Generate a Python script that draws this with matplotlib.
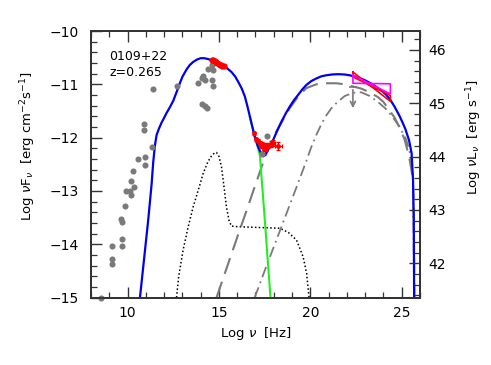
import numpy as np
import matplotlib
matplotlib.use("Agg")
import matplotlib.pyplot as plt
from matplotlib.ticker import MultipleLocator

# ---------------- data ----------------
# archival data (gray)
arch_x = [8.55, 9.13, 9.13, 9.13, 9.68, 9.68, 9.64, 9.68, 9.88, 9.91, 10.13, 10.17,
          10.33, 10.17, 10.31, 10.55, 10.93, 10.93, 11.32, 10.91, 10.91, 11.37, 12.68,
          13.86, 14.05, 14.14, 14.23, 14.41, 14.6, 14.68, 14.63, 14.68, 14.08, 14.23, 14.37,
          17.63, 17.36]
arch_y = [-15.0, -14.04, -14.28, -14.38, -14.04, -13.91, -13.53, -13.58, -13.28, -13.01, -13.01, -13.08,
          -12.93, -12.81, -12.63, -12.41, -12.37, -12.51, -12.17, -11.74, -11.86, -11.08, -11.03,
          -10.98, -10.89, -10.84, -10.92, -10.72, -10.64, -10.73, -10.91, -11.03, -11.37, -11.41, -11.45,
          -11.97, -12.30]

# simultaneous optical/UV (red)
opt_x = [14.62, 14.7, 14.78, 14.85, 14.92, 15.0, 15.06, 15.12, 15.18, 15.25]
opt_y = [-10.55, -10.54, -10.57, -10.58, -10.60, -10.61, -10.63, -10.64, -10.65, -10.66]

# X-ray (red)
xr_x = [16.92, 17.05, 17.15, 17.22, 17.30, 17.38, 17.45, 17.52, 17.6, 17.7, 17.85, 17.98, 18.24]
xr_y = [-11.92, -12.03, -12.06, -12.10, -12.16, -12.12, -12.22, -12.14, -12.20, -12.15, -12.12, -12.10, -12.16]
xr_xerr = [0.03, 0.03, 0.03, 0.03, 0.03, 0.03, 0.04, 0.04, 0.05, 0.05, 0.06, 0.08, 0.2]
xr_yerr = [0.03, 0.03, 0.03, 0.04, 0.04, 0.04, 0.04, 0.04, 0.05, 0.05, 0.05, 0.06, 0.07]

# Fermi bowties
fermi_red_x = [22.33, 24.38]
fermi_red_top = [-10.77, -11.21]
fermi_red_bot = [-10.86, -11.32]
fermi_mag_x = [22.33, 24.38]
fermi_mag_top = [-10.83, -10.99]
fermi_mag_bot = [-10.98, -11.18]

# upper limit
ul_x = 22.33
ul_y = -11.05
ul_tip = -11.50

# model: total (blue)
tot_x = [10.68, 10.86, 11.13, 11.32, 11.40, 11.50, 11.59, 11.72, 11.86, 12.0, 12.13, 12.3, 12.5, 12.7,
         12.86, 13.0, 13.23, 13.4, 13.59, 13.8, 14.0, 14.2, 14.4, 14.68, 15.0, 15.23, 15.45, 15.69,
         15.9, 16.05, 16.25, 16.42, 16.55, 16.69, 16.83, 16.96, 17.1, 17.2, 17.32,
         17.42, 17.52, 17.62, 17.78, 17.96, 18.2, 18.42, 18.65, 18.87, 19.1, 19.33, 19.55, 19.79,
         20.05, 20.33, 20.6, 20.88, 21.2, 21.51, 21.85, 22.15, 22.5, 22.97, 23.4, 23.88, 24.1,
         24.34, 24.61, 24.89, 25.05, 25.2, 25.4, 25.54, 25.62, 25.66, 25.68]
tot_y = [-15.0, -14.42, -13.55, -12.86, -12.48, -12.14, -11.95, -11.83, -11.72, -11.63, -11.54, -11.44, -11.31, -11.13,
         -10.98, -10.86, -10.72, -10.64, -10.58, -10.535, -10.51, -10.51, -10.525, -10.56, -10.60, -10.645, -10.70, -10.77,
         -10.86, -10.95, -11.08, -11.23, -11.40, -11.60, -11.80, -11.98, -12.13, -12.22, -12.30,
         -12.35, -12.33, -12.27, -12.17, -12.05, -11.86, -11.70, -11.55, -11.42, -11.30, -11.20, -11.10, -11.01,
         -10.94, -10.89, -10.85, -10.83, -10.815, -10.81, -10.815, -10.83, -10.86, -10.92, -11.0, -11.11, -11.18,
         -11.27, -11.42, -11.60, -11.72, -11.84, -12.05, -12.29, -12.80, -13.6, -15.0]

# synchrotron tail (green)
syn_x = [16.69, 16.96, 17.24, 17.50, 17.82]
syn_y = [-11.61, -11.98, -12.33, -13.50, -15.0]

# external Compton (gray long dashes)
ec_x = [14.87, 15.5, 16.0, 16.5, 17.0, 17.6, 18.0, 18.42, 18.87, 19.33, 19.79, 20.33, 20.88,
        21.43, 21.88, 22.33, 22.79, 23.25, 23.70, 24.0, 24.25, 24.6, 24.9, 25.16, 25.40, 25.60, 25.66, 25.69]
ec_y = [-15.0, -14.37, -13.87, -13.38, -12.88, -12.29, -11.97, -11.72, -11.45, -11.23, -11.07, -11.0, -10.98,
        -10.98, -11.0, -11.04, -11.08, -11.15, -11.24, -11.33, -11.45, -11.62, -11.82, -12.04, -12.35, -12.75, -13.3, -15.0]

# SSC (gray dash-dot)
ssc_x = [16.96, 17.5, 18.0, 18.5, 19.0, 19.42, 19.79, 20.05, 20.33, 20.6, 20.88, 21.15, 21.43, 21.88, 22.33, 22.79,
         23.25, 23.70, 24.10, 24.43, 24.85, 25.25, 25.50, 25.62, 25.68]
ssc_y = [-15.0, -14.5, -14.05, -13.6, -13.15, -12.77, -12.43, -12.18, -11.95, -11.75, -11.58, -11.45, -11.35, -11.22, -11.16, -11.15,
         -11.22, -11.33, -11.45, -11.58, -11.78, -12.04, -12.35, -12.8, -15.0]

# disk + corona (black dotted)
disk_x = [12.68, 12.8, 13.04, 13.3, 13.59, 13.9, 14.14, 14.4, 14.6, 14.75, 14.87, 15.0, 15.14, 15.27,
          15.41, 15.55, 15.68, 16.0, 16.69, 17.5, 18.33, 18.8, 19.24, 19.6, 19.8, 19.87, 19.93]
disk_y = [-15.0, -14.6, -14.11, -13.7, -13.3, -12.95, -12.67, -12.45, -12.34, -12.29, -12.28, -12.35, -12.55, -12.9,
          -13.3, -13.55, -13.66, -13.67, -13.68, -13.69, -13.7, -13.78, -13.92, -14.23, -14.55, -14.8, -15.0]

x_lim = (8, 26)
y_lim = (-15, -10)
lum_offset = 56.356
source_name = "0109+22"
redshift_label = "z=0.265"

# ---------------- figure ----------------
plt.rcParams['font.family'] = ['DejaVu Sans']
fig = plt.figure(figsize=(4.91, 3.65), dpi=100)
ax = fig.add_axes([0.1853, 0.1849, 0.6701, 0.7301])

frame_col = '#333333'
gray = '#7a7a7a'

ax.plot(disk_x, disk_y, ls=(0, (1, 1.5)), color='black', lw=1.1, zorder=2)
ax.plot(ssc_x, ssc_y, ls=(0, (6, 2.5, 1, 2.5)), color=gray, lw=1.3, zorder=2)
ax.plot(ec_x, ec_y, ls=(0, (8, 4)), color=gray, lw=1.5, zorder=2)
ax.plot(syn_x, syn_y, color='#22ee22', lw=1.5, zorder=3)
ax.plot(tot_x, tot_y, color='#0000ee', lw=1.6, zorder=4, solid_joinstyle='round')

ax.plot(arch_x, arch_y, 'o', color=gray, ms=4.4, mec='none', zorder=5, clip_on=False)
ax.plot(opt_x, opt_y, 'o', color='red', ms=4.5, mec='none', zorder=6)
ax.errorbar(xr_x, xr_y, xerr=xr_xerr, yerr=xr_yerr, fmt='o', color='red', ms=3.5,
            mec='none', elinewidth=1, capsize=1.5, zorder=6)

# bowties
rx = [fermi_red_x[0], fermi_red_x[1], fermi_red_x[1], fermi_red_x[0], fermi_red_x[0]]
ry = [fermi_red_top[0], fermi_red_bot[1], fermi_red_top[1], fermi_red_bot[0], fermi_red_top[0]]
ax.plot(rx, ry, color='red', lw=1.2, zorder=7)
mx = [fermi_mag_x[0], fermi_mag_x[1], fermi_mag_x[1], fermi_mag_x[0], fermi_mag_x[0]]
my = [fermi_mag_top[0], fermi_mag_bot[1], fermi_mag_top[1], fermi_mag_bot[0], fermi_mag_top[0]]
ax.plot(mx, my, color='magenta', lw=1.2, zorder=7)

# upper limit arrow
ax.annotate('', xy=(ul_x, ul_tip), xytext=(ul_x, ul_y),
            arrowprops=dict(arrowstyle='->', color=gray, lw=1.2, mutation_scale=9), zorder=6)
ax.plot([ul_x], [ul_y], marker='_', color=gray, ms=6, mew=1.2, zorder=6)

ax.set_xlim(*x_lim)
ax.set_ylim(*y_lim)

ax.xaxis.set_major_locator(MultipleLocator(5))
ax.xaxis.set_minor_locator(MultipleLocator(1))
ax.yaxis.set_major_locator(MultipleLocator(1))
ax.yaxis.set_minor_locator(MultipleLocator(0.2))
ax.tick_params(axis='both', which='both', direction='in', color=frame_col, top=True, right=False,
               labelsize=10)
ax.tick_params(axis='y', which='both', pad=9)
ax.tick_params(axis='x', which='both', pad=6)
ax.tick_params(axis='both', which='major', length=8, width=1.0)
ax.tick_params(axis='both', which='minor', length=4.5, width=0.9)
for s in ax.spines.values():
    s.set_color(frame_col)
    s.set_linewidth(1.3)

ax2 = ax.twinx()
ax2.set_ylim(y_lim[0] + lum_offset, y_lim[1] + lum_offset)
ax2.yaxis.set_major_locator(MultipleLocator(1))
ax2.yaxis.set_minor_locator(MultipleLocator(0.2))
ax2.tick_params(axis='y', which='both', direction='in', color=frame_col, labelsize=10, pad=6)
ax2.tick_params(axis='y', which='major', length=8, width=1.0)
ax2.tick_params(axis='y', which='minor', length=4.5, width=0.9)
for s in ax2.spines.values():
    s.set_color(frame_col)
    s.set_linewidth(1.3)

ax.set_xlabel(r'Log $\nu$  [Hz]', fontsize=9.5)
ax.set_ylabel(r'Log $\nu$F$_\nu$  [erg cm$^{-2}$s$^{-1}$]', fontsize=9.5)
ax.yaxis.set_label_coords(-0.16, 0.57)
ax2.set_ylabel(r'Log $\nu$L$_\nu$  [erg s$^{-1}$]', fontsize=9.5)
ax2.yaxis.set_label_coords(1.135, 0.60)

ax.text(0.055, 0.905, source_name, transform=ax.transAxes, fontsize=9, va='center', ha='left')
ax.text(0.055, 0.845, redshift_label, transform=ax.transAxes, fontsize=9, va='center', ha='left')

fig.savefig('out.png', dpi=100)
